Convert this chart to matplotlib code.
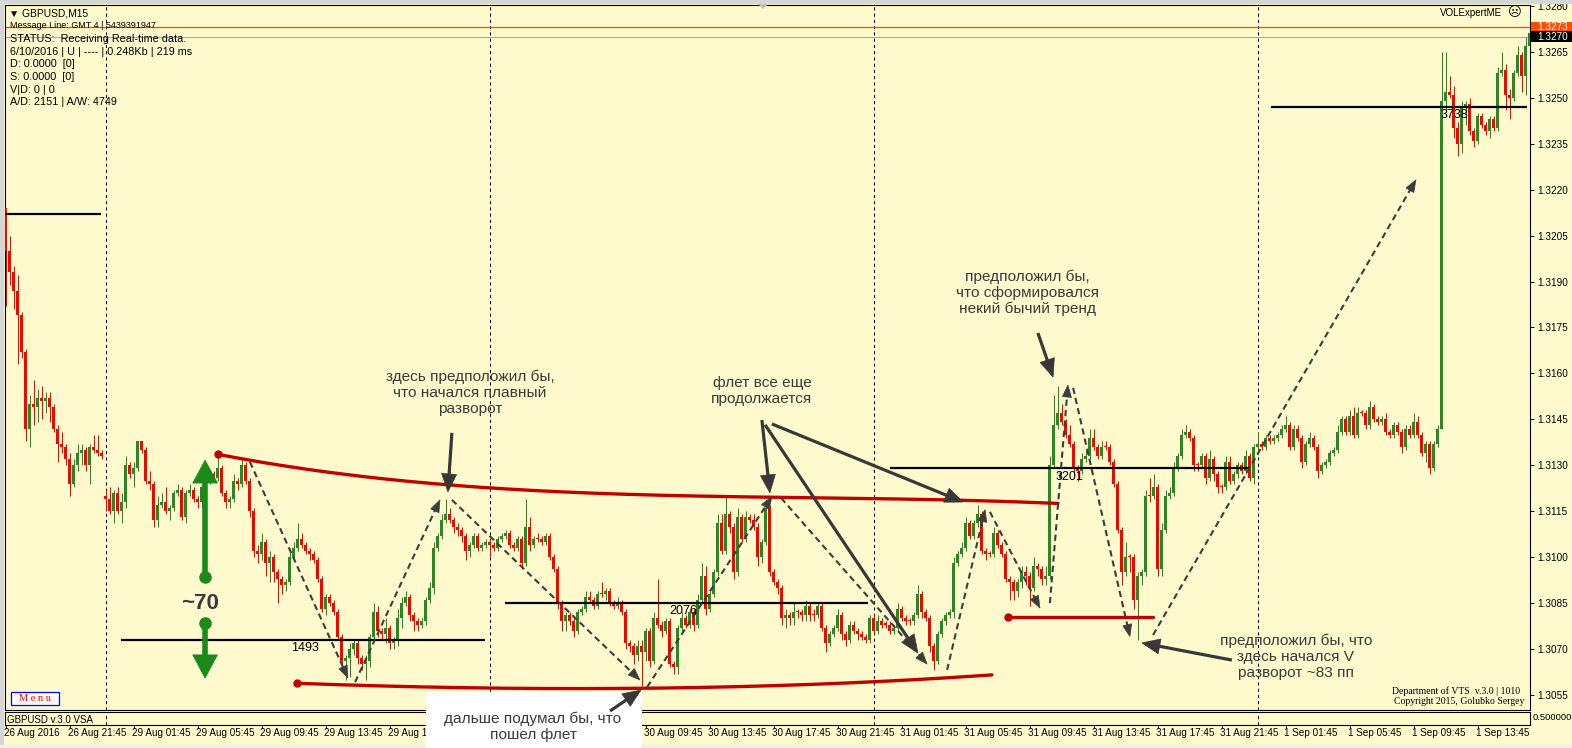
import numpy as np
import matplotlib
matplotlib.use("Agg")
import matplotlib.pyplot as plt
from matplotlib.patches import Polygon, Rectangle
from matplotlib import transforms

plt.rcParams['font.family'] = ['Liberation Sans', 'DejaVu Sans']

W, H, DPI = 1572, 748, 100
BG = '#FFFACD'
BULL = '#228B22'
BEAR = '#FF0000'
LEVEL_RED = '#C00000'
ARROW_GRAY = '#383838'
GREEN_ARROW = '#1A8A1A'

# ---------------- data (prices in pips: value / 10000) ----------------
first_open = 13214
gap_opens = {25: 13120}
closes = [
    13200,13193,13187,13179,13167,13142,13150,13149,13152,13151,13152,13149,13142,13137,13136,13132,13124,13130,13134,13135,
    13130,13136,13135,13134,13133,13119,13115,13121,13115,13118,13130,13127,13129,13138,13135,13125,13124,13112,13117,13118,
    13115,13116,13121,13122,13113,13121,13122,13119,13118,13123,13125,13127,13126,13129,13121,13118,13119,13125,13124,13130,
    13125,13115,13102,13101,13105,13098,13100,13095,13093,13091,13092,13100,13103,13106,13104,13102,13101,13099,13093,13083,
    13087,13085,13082,13074,13066,13067,13070,13072,13067,13065,13066,13074,13082,13076,13075,13077,13072,13073,13080,13085,
    13087,13081,13079,13078,13079,13086,13090,13103,13107,13112,13114,13112,13110,13109,13107,13102,13104,13107,13103,13104,
    13105,13104,13103,13106,13107,13108,13104,13103,13106,13098,13110,13104,13106,13106,13105,13107,13100,13096,13085,13079,
    13081,13079,13076,13082,13083,13087,13086,13084,13088,13088,13089,13085,13084,13085,13082,13072,13071,13068,13071,13069,
    13076,13066,13080,13078,13076,13079,13065,13064,13077,13080,13078,13082,13078,13086,13094,13083,13088,13095,13111,13102,
    13114,13110,13095,13113,13106,13113,13112,13110,13100,13105,13116,13095,13092,13090,13080,13081,13080,13082,13082,13081,
    13084,13081,13081,13084,13077,13072,13075,13077,13081,13075,13073,13078,13076,13075,13074,13073,13080,13076,13079,13078,
    13078,13076,13077,13083,13080,13079,13079,13081,13088,13082,13080,13071,13066,13075,13079,13081,13082,13098,13101,13103,
    13111,13107,13111,13114,13102,13101,13101,13108,13104,13101,13093,13092,13089,13092,13095,13094,13090,13097,13096,13093,
    13094,13130,13143,13147,13144,13140,13137,13129,13128,13132,13133,13139,13136,13133,13136,13136,13131,13124,13109,13095,
    13100,13100,13086,13094,13095,13120,13120,13123,13096,13109,13120,13121,13129,13133,13140,13141,13139,13130,13130,13133,
    13126,13132,13127,13123,13123,13131,13125,13127,13130,13128,13133,13126,13136,13137,13136,13139,13138,13139,13140,13142,
    13143,13136,13142,13139,13131,13137,13139,13136,13128,13130,13131,13134,13135,13141,13145,13141,13146,13140,13147,13147,
    13143,13149,13145,13144,13145,13141,13140,13143,13141,13136,13142,13140,13144,13140,13134,13137,13129,13137,13142,13249,
    13252,13251,13240,13235,13247,13248,13239,13236,13244,13241,13239,13243,13240,13258,13259,13251,13250,13258,13264,13257,13267,13271,
]
upper_wick = [
    0,5,2,5,1,1,3,8,3,4,2,2,1,1,4,1,2,2,3,2,
    1,1,4,5,1,2,4,1,2,3,3,1,2,0,0,1,3,1,3,3,
    5,1,1,2,1,1,2,1,1,1,1,1,1,4,1,1,1,2,1,2,
    1,1,1,2,3,1,2,1,1,1,1,3,2,5,2,1,1,1,1,1,
    1,1,1,1,1,1,2,1,1,1,2,1,3,2,1,3,1,1,3,2,
    2,1,1,1,1,1,2,2,1,2,5,2,1,1,1,1,1,1,1,1,
    1,1,1,1,1,1,1,1,1,1,9,3,1,2,1,1,1,1,1,1,
    1,1,1,1,1,2,2,1,1,4,1,1,1,2,1,1,1,1,2,2,
    1,1,2,13,1,1,1,1,1,2,1,1,1,2,4,3,1,1,3,3,
    6,1,1,3,1,2,1,2,1,1,3,1,1,1,1,2,1,3,1,1,
    2,1,2,1,1,1,1,1,2,1,1,1,1,1,1,1,1,1,2,1,
    1,1,1,2,1,1,1,1,3,1,1,1,1,1,1,1,1,2,1,2,
    2,1,1,3,1,1,1,2,1,1,1,1,1,1,2,2,1,3,1,1,
    3,3,10,9,3,1,3,1,1,2,2,3,3,1,2,2,1,1,1,1,
    5,1,1,1,1,2,6,4,1,2,2,2,2,1,2,2,1,1,1,1,
    1,3,1,1,1,2,2,1,1,1,2,1,1,4,1,1,1,1,1,1,
    3,1,1,1,1,1,2,1,1,1,1,1,1,2,1,1,2,3,2,1,
    1,2,1,1,1,2,1,1,1,1,1,1,3,2,1,1,1,1,1,16,
    13,5,3,2,2,1,2,1,1,1,1,1,1,2,6,2,2,1,3,1,3,3,
]
lower_wick = [
    18,4,6,16,2,4,6,6,5,6,4,5,1,6,2,2,4,1,2,4,
    2,6,1,1,1,4,1,4,1,4,2,1,4,1,1,1,2,2,2,1,
    1,3,1,1,1,2,1,1,2,2,1,1,1,1,1,2,2,1,2,1,
    1,2,2,3,2,4,6,3,8,3,2,1,1,1,1,1,2,1,1,1,
    2,1,1,1,3,6,6,2,2,2,5,2,1,2,2,3,2,2,2,3,
    1,2,3,2,1,1,1,2,1,1,1,1,2,2,2,3,2,1,1,1,
    1,4,1,1,1,1,1,1,1,2,1,2,1,1,1,1,1,1,2,3,
    3,1,2,1,1,1,1,1,1,1,2,1,1,1,1,2,2,3,2,11,
    3,2,1,1,2,1,1,2,2,1,1,1,2,1,1,2,1,1,1,1,
    1,2,2,1,1,1,1,1,3,2,1,1,1,2,2,3,2,2,2,2,
    2,2,2,1,1,3,1,1,1,2,2,1,1,2,1,1,1,1,1,1,
    1,1,1,1,1,1,1,1,1,2,1,2,3,1,1,1,1,2,1,1,
    1,1,1,1,1,2,1,1,1,1,1,6,3,2,2,3,6,1,2,2,
    2,1,1,1,1,1,1,2,3,1,1,1,1,1,1,1,1,1,1,4,
    1,5,3,13,3,1,2,1,2,2,1,1,1,1,1,1,1,2,2,1,
    2,1,2,2,2,1,1,1,1,1,1,1,2,1,1,1,1,1,1,1,
    1,1,1,1,2,1,1,1,2,1,1,1,1,1,1,1,1,1,1,1,
    1,1,1,1,1,1,1,1,1,2,1,1,1,1,1,3,2,1,1,0,
    3,1,3,4,3,6,1,2,1,1,1,2,1,1,1,5,7,1,1,5,6,0,
]

# visible time-axis labels (the ones under the note box are not shown in the reference)
time_labels = ["26 Aug 2016", "26 Aug 21:45", "29 Aug 01:45", "29 Aug 05:45", "29 Aug 09:45",
               "29 Aug 13:45", "29 Aug 17:45",
               "30 Aug 09:45", "30 Aug 13:45", "30 Aug 17:45", "30 Aug 21:45", "31 Aug 01:45",
               "31 Aug 05:45", "31 Aug 09:45", "31 Aug 13:45", "31 Aug 17:45", "31 Aug 21:45",
               "1 Sep 01:45", "1 Sep 05:45", "1 Sep 09:45", "1 Sep 13:45"]
time_label_bars = [0, 16, 32, 48, 64, 80, 96, 160, 176, 192, 208, 224,
                   240, 256, 272, 288, 304, 320, 336, 352, 368]
day_separator_bars = [25, 121, 217, 313]

price_ticks = [1.3055, 1.3070, 1.3085, 1.3100, 1.3115, 1.3130, 1.3145, 1.3160,
               1.3175, 1.3190, 1.3205, 1.3220, 1.3235, 1.3250, 1.3265, 1.3280]
ask_price, bid_price = 1.3273, 1.3270

# VSA horizontal levels
level_start = [-0.1, 28.9, 124.9, 221.0, 316.4]
level_end = [23.9, 119.9, 215.6, 311.1, 380.4]
level_price = [1.3212, 1.3073, 1.3085, 1.3129, 1.3247]
level_label = ["", "1493", "2076", "3201", "3738"]
level_label_bar = [0, 74.9, 169.4, 266.1, 362.1]

# red trend curves (bar, price)
upper_curve_bar = [53.1, 86.1, 111.1, 131.9, 165.4, 203.6, 240.4, 263.1]
upper_curve_px = [1.31337, 1.31268, 1.31229, 1.31223, 1.31206, 1.31190, 1.31184, 1.31177]
lower_curve_bar = [72.9, 98.6, 128.6, 159.9, 203.6, 226.9, 246.6]
lower_curve_px = [1.30589, 1.30576, 1.30573, 1.30573, 1.30583, 1.30602, 1.30615]
short_red_bar = [250.6, 286.9]
short_red_px = [1.30805, 1.30805]

# dashed zigzag arrows ((bar, price) -> (bar, price))
zigzag = [((61.1, 1.31311), (85.6, 1.30606)),
          ((87.4, 1.30592), (108.6, 1.31187)),
          ((111.6, 1.31187), (158.6, 1.30599)),
          ((160.4, 1.30576), (191.6, 1.31197)),
          ((193.9, 1.31193), (230.4, 1.30651)),
          ((235.4, 1.30632), (244.9, 1.31155)),
          ((246.1, 1.31148), (258.6, 1.30834)),
          ((261.1, 1.30850), (265.6, 1.31562)),
          ((266.9, 1.31553), (281.1, 1.30741)),
          ((286.9, 1.30746), (352.6, 1.32232))]

# solid pointer arrows
pointers = [((111.6, 1.31406), (110.6, 1.31213)),
            ((189.1, 1.31448), (191.1, 1.31210)),
            ((191.6, 1.31435), (239.4, 1.31180)),
            ((189.9, 1.31432), (228.1, 1.30687)),
            ((258.1, 1.31732), (261.9, 1.31588)),
            ((306.6, 1.30664), (284.1, 1.30720))]

notes = [(116.1, 1.31536, "здесь предположил бы,\nчто начался плавный\nразворот"),
         (189.1, 1.31544, "флет все еще\nпродолжается"),
         (255.4, 1.31863, "предположил бы,\nчто сформировался\nнекий бычий тренд"),
         (322.6, 1.30674, "предположил бы, что\nздесь начался V\nразворот ~83 пп")]

green_bar = 49.9
green_up = (1.30935, 1.31242, 1.31317)    # dot, head base, tip
green_down = (1.30785, 1.30681, 1.30605)
green_text = (48.6, 1.30850, "~70")

# ---------------- build ----------------
n = min(len(closes), len(upper_wick), len(lower_wick))
c = np.array(closes[:n], dtype=float) / 1e4
o = np.empty(n)
o[0] = first_open / 1e4
o[1:] = c[:-1]
for k, v in gap_opens.items():
    if k < n:
        o[k] = v / 1e4
top = np.maximum(o, c)
bot = np.minimum(o, c)
hi = top + np.array(upper_wick[:n]) / 1e4
lo = bot - np.array(lower_wick[:n]) / 1e4
xb = np.arange(n)
cols = [BULL if c[i] > o[i] else BEAR for i in range(n)]

fig = plt.figure(figsize=(W / DPI, H / DPI), dpi=DPI, facecolor=BG)

ax = fig.add_axes([5 / W, 1 - 710 / H, 1525 / W, 705 / H])
ax.set_facecolor(BG)
ax.set_xlim(-0.125, 381.125)
ax.set_ylim(1.30501, 1.32803)
for s in ax.spines.values():
    s.set_color('black')
    s.set_linewidth(0.8)
ax.set_xticks([])
ax.yaxis.tick_right()
ax.set_yticks(price_ticks)
ax.set_yticklabels([f"{p:.4f}" for p in price_ticks])
ax.tick_params(axis='y', direction='out', length=3, width=0.7, pad=2, labelsize=7.2,
               colors='black', right=True, left=False)

sub = fig.add_axes([5 / W, 1 - 725 / H, 1525 / W, 13 / H])
sub.set_facecolor(BG)
sub.set_xlim(ax.get_xlim())
sub.set_ylim(0, 1)
sub.set_xticks([])
sub.set_yticks([])
for s in sub.spines.values():
    s.set_color('black')
    s.set_linewidth(0.8)

ov = fig.add_axes([0, 0, 1, 1], zorder=10)
ov.set_xlim(0, W)
ov.set_ylim(H, 0)
ov.axis('off')
ov.patch.set_alpha(0)

# day separators
for b in day_separator_bars:
    ax.axvline(b, color='black', lw=0.75, ls=(0, (3, 3)), zorder=1)
    sub.axvline(b, color='black', lw=0.75, ls=(0, (3, 3)), zorder=1)

# ask / bid lines
ax.axhline(ask_price, color='#FF4500', lw=0.9, zorder=1)
ax.axhline(bid_price, color='#A8A8A8', lw=0.8, zorder=1)

# candles
ax.vlines(xb, lo, hi, colors=cols, linewidth=0.75, zorder=2)
ax.bar(xb, np.maximum(top - bot, 0.00004), bottom=bot, width=0.8, color=cols,
       linewidth=0, zorder=3)

# VSA levels
for s0, s1, p, lab, lb in zip(level_start, level_end, level_price, level_label, level_label_bar):
    ax.plot([s0, s1], [p, p], color='black', lw=1.6, solid_capstyle='butt', zorder=4)
    if lab:
        ax.text(lb, p - 0.00027, lab, ha='center', va='center', fontsize=9, color='black', zorder=8)

# red trend curves
for bars_, prs, deg in ((upper_curve_bar, upper_curve_px, 3), (lower_curve_bar, lower_curve_px, 3)):
    coef = np.polyfit(bars_, prs, deg)
    xs = np.linspace(bars_[0], bars_[-1], 200)
    ax.plot(xs, np.polyval(coef, xs), color=LEVEL_RED, lw=2.4, solid_capstyle='round', zorder=5)
    ax.plot([bars_[0]], [prs[0]], 'o', ms=5, color=LEVEL_RED, zorder=5)
ax.plot(short_red_bar, short_red_px, color=LEVEL_RED, lw=2.4, solid_capstyle='round', zorder=5)
ax.plot([short_red_bar[0]], [short_red_px[0]], 'o', ms=5, color=LEVEL_RED, zorder=5)


def draw_arrow(a, p0, p1, color, lw, ls, hl, hw, z):
    T = a.transData
    P0 = np.array(T.transform(p0))
    P1 = np.array(T.transform(p1))
    d = P1 - P0
    L = np.hypot(d[0], d[1])
    u = d / L
    nrm = np.array([-u[1], u[0]])
    base = P1 - u * hl
    inv = T.inverted()
    bq = inv.transform(base + u * 1.5)
    a.plot([p0[0], bq[0]], [p0[1], bq[1]], color=color, lw=lw, ls=ls,
           solid_capstyle='butt', dash_capstyle='butt', zorder=z, clip_on=False)
    tri = inv.transform(np.array([P1, base + nrm * hw / 2, base - nrm * hw / 2]))
    a.add_patch(Polygon(tri, closed=True, facecolor=color, edgecolor=color, lw=0.5,
                        zorder=z, clip_on=False))


for p0, p1 in zigzag:
    draw_arrow(ax, p0, p1, '#3C3C3C', 1.5, (0, (3, 2)), 12, 9, 6)
for p0, p1 in pointers:
    draw_arrow(ax, p0, p1, ARROW_GRAY, 2.3, '-', 18, 15, 7)

for bx, py, t in notes:
    ax.text(bx, py, t, ha='center', va='center', fontsize=11.1, color='#3A3A3A',
            linespacing=1.17, zorder=8)

# green ~70 arrows
for dot, base, tip in (green_up, green_down):
    ax.plot([green_bar, green_bar], [dot, base], color=GREEN_ARROW, lw=4, solid_capstyle='butt', zorder=6)
    ax.plot([green_bar], [dot], 'o', ms=8, color=GREEN_ARROW, zorder=6)
    ax.add_patch(Polygon([(green_bar, tip), (green_bar - 3.1, base), (green_bar + 3.1, base)],
                         closed=True, facecolor=GREEN_ARROW, edgecolor=GREEN_ARROW, lw=0.5, zorder=6))
ax.text(green_text[0], green_text[1], green_text[2], ha='center', va='center', fontsize=16,
        fontweight='bold', color='#3A3A3A', zorder=8)

# ---------------- chrome (overlay, pixel coords) ----------------
ov.add_patch(Rectangle((0, 0), W, 4, facecolor='#D6D6D6', edgecolor='none', zorder=1))
ov.add_patch(Rectangle((0, 0), 4, H, facecolor='#D6D6D6', edgecolor='none', zorder=1))
ov.add_patch(Rectangle((0, 745), W, 3, facecolor='#EFEFEF', edgecolor='none', zorder=1))
ov.add_patch(Polygon([(758, 4), (768, 4), (763, 9)], closed=True, facecolor='#BDBDBD', edgecolor='none', zorder=2))

info = [("▼ GBPUSD,M15", 13, 7.4), ("Message Line: GMT 4 | 5439391947", 25, 6.5),
        ("STATUS:  Receiving Real-time data.", 39, 7.8),
        ("6/10/2016 | U | ---- | 0.248Kb | 219 ms", 52, 7.8),
        ("D: 0.0000  [0]", 64, 7.8), ("S: 0.0000  [0]", 77, 7.8),
        ("V|D: 0 | 0", 90, 7.8), ("A/D: 2151 | A/W: 4749", 102, 7.8)]
for t, yy, fs in info:
    ov.text(9 if t.startswith("▼") else 10, yy, t, ha='left', va='center', fontsize=fs,
            color='black', zorder=3)

ov.text(1502, 13, "VOLExpertME", ha='right', va='center', fontsize=7, color='black', zorder=3)
ov.text(1515, 13, "☹", ha='center', va='center', fontsize=9.5, color='black',
        family=['DejaVu Sans'], zorder=3)

# price labels on the axis
ov.add_patch(Rectangle((1531, 21.5), 41, 9.5, facecolor='#FF4C00', edgecolor='none', zorder=3))
ov.text(1537, 26.5, f"{ask_price:.4f}", ha='left', va='center', fontsize=7.2, color='white', zorder=4)
ov.add_patch(Rectangle((1531, 31), 41, 10.5, facecolor='black', edgecolor='none', zorder=3))
ov.text(1537, 36.5, f"{bid_price:.4f}", ha='left', va='center', fontsize=7.2, color='white', zorder=4)

ov.text(1520, 691, "Department of VTS  v.3.0 | 1010", ha='right', va='center', fontsize=7,
        family=['Liberation Serif'], color='black', zorder=3)
ov.text(1524, 702, "Copyright 2015, Golubko Sergey", ha='right', va='center', fontsize=7,
        family=['Liberation Serif'], color='black', zorder=3)

ov.add_patch(Rectangle((11, 692), 48, 13, facecolor='white', edgecolor='#0000FF', lw=0.9, zorder=3))
ov.text(35, 698.5, "M e n u", ha='center', va='center', fontsize=7.5, color='#FF0000',
        family=['Liberation Serif'], zorder=4)

ov.text(7, 720, "GBPUSD v.3.0 VSA", ha='left', va='center', fontsize=7, color='black', zorder=3)
ov.text(1533, 718, "0.500000", ha='left', va='center', fontsize=6.8, color='black', zorder=3)

# time axis labels
bt = transforms.blended_transform_factory(ax.transData, ov.transData)
for b, lab in zip(time_label_bars, time_labels):
    ov.text(b - 0.4, 733.5, lab, ha='left', va='center', fontsize=7.1, color='black',
            transform=bt, zorder=3)
    ov.plot([b, b], [725, 728], color='black', lw=0.7, transform=bt, zorder=3)

# white note box at the bottom
ov.add_patch(Rectangle((426, 692), 216, 60, facecolor='white', edgecolor='none', zorder=8))
ov.text(533, 727, "дальше подумал бы, что\nпошел флет", ha='center', va='center',
        fontsize=11.1, color='#3A3A3A', linespacing=1.17, zorder=9)
draw_arrow(ov, (610, 711), (641, 690), ARROW_GRAY, 2.3, '-', 18, 15, 9)

fig.savefig("out.png", dpi=DPI, facecolor=BG)
